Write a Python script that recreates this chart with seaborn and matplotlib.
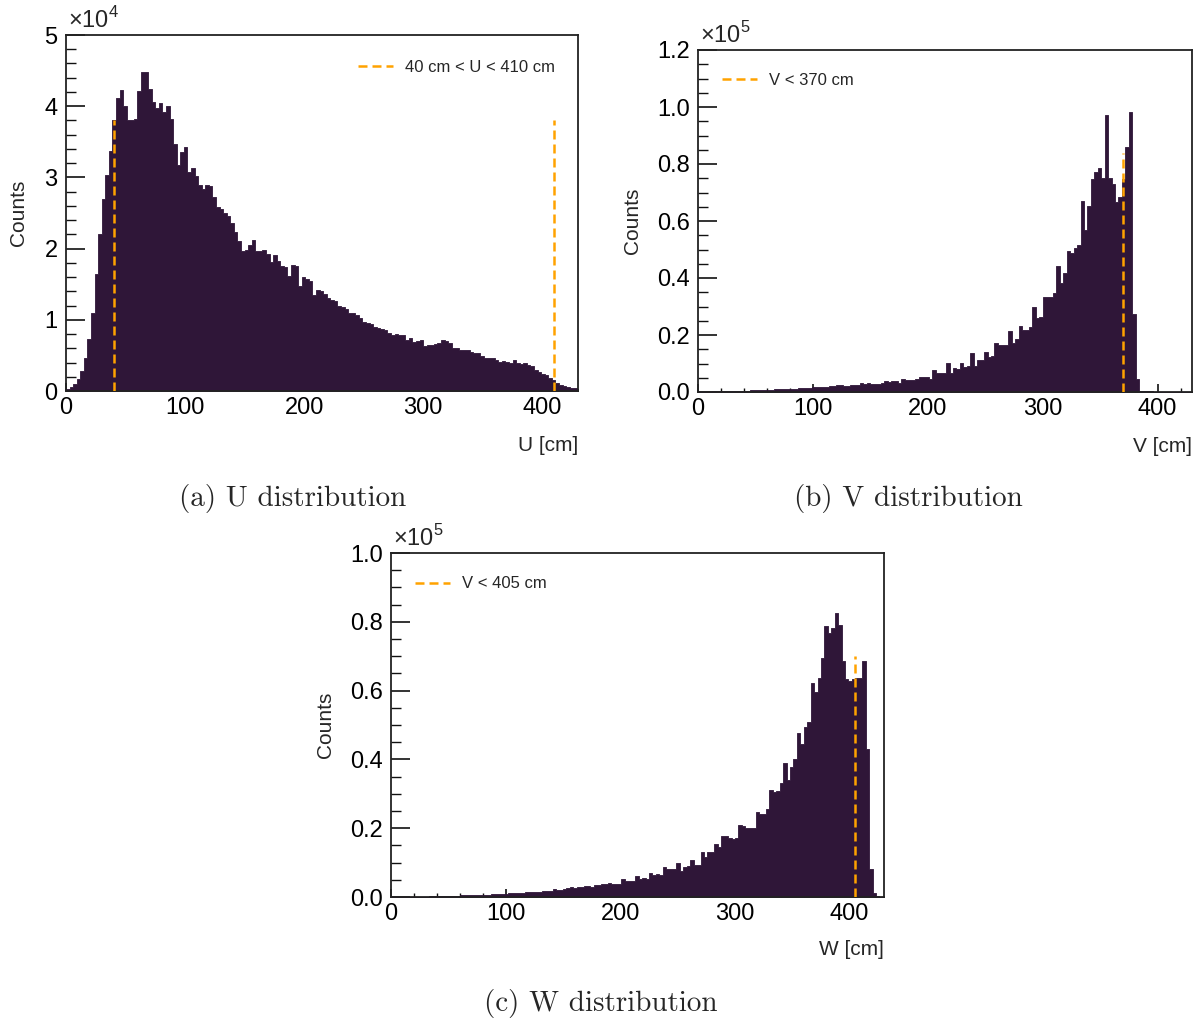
import numpy as np
import pandas as pd
import matplotlib
matplotlib.use("Agg")
import matplotlib.pyplot as plt
from matplotlib.ticker import MultipleLocator, FuncFormatter
import seaborn as sns

# ---------------------------------------------------------------------------
# Histogram contents: 3 cm wide bins starting at 0 cm
# ---------------------------------------------------------------------------
BIN_WIDTH_CM = 3
N_BINS = 144

# U distribution, counts in units of 1e4
u_counts_1e4 = [
    0.03, 0.06, 0.10, 0.17, 0.28, 0.46, 0.73, 1.10, 1.64, 2.21,
    2.69, 3.04, 3.37, 3.81, 4.12, 4.23, 4.00, 3.80, 3.80, 3.82,
    4.21, 4.48, 4.48, 4.24, 4.06, 3.97, 4.04, 3.92, 4.00, 3.82,
    3.47, 3.17, 3.35, 3.42, 3.08, 3.13, 3.02, 2.90, 2.84, 2.89,
    2.88, 2.73, 2.58, 2.56, 2.50, 2.46, 2.36, 2.23, 2.10, 1.97,
    1.98, 2.05, 2.12, 1.97, 1.96, 1.98, 1.93, 1.81, 1.91, 1.83,
    1.76, 1.74, 1.61, 1.77, 1.76, 1.47, 1.60, 1.58, 1.54, 1.35,
    1.42, 1.40, 1.36, 1.30, 1.28, 1.27, 1.19, 1.18, 1.15, 1.10,
    1.09, 1.07, 1.02, 0.97, 0.96, 0.94, 0.90, 0.89, 0.87, 0.86,
    0.82, 0.79, 0.80, 0.78, 0.79, 0.72, 0.74, 0.69, 0.70, 0.71,
    0.63, 0.65, 0.65, 0.66, 0.68, 0.71, 0.70, 0.68, 0.60, 0.61,
    0.58, 0.58, 0.57, 0.55, 0.54, 0.53, 0.49, 0.47, 0.46, 0.46,
    0.44, 0.41, 0.42, 0.41, 0.40, 0.43, 0.39, 0.38, 0.40, 0.37,
    0.35, 0.30, 0.27, 0.24, 0.22, 0.18, 0.15, 0.11, 0.08, 0.07,
    0.05, 0.04, 0.04, 0.03,
]

# V distribution, counts in units of 1e5
v_counts_1e5 = [
    0.001, 0.001, 0.001, 0.001, 0.002, 0.002, 0.002, 0.003, 0.003, 0.003,
    0.004, 0.004, 0.004, 0.005, 0.005, 0.006, 0.006, 0.006, 0.007, 0.007,
    0.008, 0.008, 0.009, 0.009, 0.009, 0.010, 0.010, 0.011, 0.012, 0.013,
    0.014, 0.015, 0.015, 0.016, 0.016, 0.017, 0.019, 0.019, 0.020, 0.020,
    0.023, 0.023, 0.021, 0.022, 0.026, 0.025, 0.026, 0.030, 0.029, 0.030,
    0.028, 0.028, 0.029, 0.033, 0.037, 0.036, 0.040, 0.039, 0.031, 0.047,
    0.042, 0.043, 0.042, 0.044, 0.051, 0.054, 0.053, 0.044, 0.077, 0.068,
    0.067, 0.066, 0.103, 0.065, 0.083, 0.082, 0.103, 0.089, 0.090, 0.138,
    0.091, 0.112, 0.113, 0.142, 0.124, 0.125, 0.173, 0.165, 0.166, 0.165,
    0.215, 0.171, 0.185, 0.232, 0.218, 0.219, 0.227, 0.297, 0.261, 0.262,
    0.335, 0.332, 0.334, 0.346, 0.442, 0.381, 0.416, 0.495, 0.487, 0.504,
    0.515, 0.670, 0.570, 0.652, 0.747, 0.773, 0.785, 0.750, 0.971, 0.750,
    0.729, 0.668, 0.685, 0.746, 0.861, 0.981, 0.273, 0.047, 0.003, 0.002,
    0.002, 0.002, 0.001, 0.001, 0.001, 0.001, 0.001, 0.001, 0.001, 0.001,
    0.001, 0.001, 0.001, 0.001,
]

# W distribution, counts in units of 1e5
w_counts_1e5 = [
    0.0004, 0.0004, 0.0005, 0.0005, 0.0005, 0.0005, 0.0006, 0.0006, 0.0007, 0.0010,
    0.0010, 0.0015, 0.0020, 0.0020, 0.0030, 0.0030, 0.0030, 0.0035, 0.0035, 0.0040,
    0.0045, 0.0050, 0.0050, 0.0055, 0.0055, 0.0060, 0.0070, 0.0070, 0.0070, 0.0075,
    0.0075, 0.0080, 0.0090, 0.0090, 0.0110, 0.0110, 0.0115, 0.0130, 0.0130, 0.0135,
    0.0135, 0.0150, 0.0150, 0.0155, 0.0170, 0.0170, 0.0175, 0.0220, 0.0200, 0.0210,
    0.0220, 0.0250, 0.0280, 0.0270, 0.0300, 0.0290, 0.0320, 0.0330, 0.0280, 0.0340,
    0.0350, 0.0380, 0.0370, 0.0420, 0.0380, 0.0390, 0.0380, 0.0510, 0.0460, 0.0470,
    0.0460, 0.0610, 0.0530, 0.0540, 0.0530, 0.0710, 0.0650, 0.0660, 0.0650, 0.0860,
    0.0800, 0.0810, 0.0800, 0.0980, 0.0770, 0.0880, 0.0890, 0.1090, 0.0930, 0.0940,
    0.1320, 0.1170, 0.1310, 0.1300, 0.1540, 0.1440, 0.1770, 0.1760, 0.1710, 0.1700,
    0.1720, 0.2090, 0.2050, 0.2000, 0.2010, 0.2000, 0.2480, 0.2410, 0.2420, 0.2550,
    0.3110, 0.3060, 0.3070, 0.3300, 0.3890, 0.3400, 0.3790, 0.4000, 0.4760, 0.4450,
    0.4930, 0.5100, 0.6210, 0.5970, 0.6380, 0.6960, 0.7880, 0.7660, 0.7830, 0.8270,
    0.7900, 0.6860, 0.6330, 0.6290, 0.6330, 0.6360, 0.6360, 0.6860, 0.4290, 0.0800,
    0.0110, 0.0030, 0.0010, 0.0000,
]

# Selection cuts: positions [cm] and drawn line heights
u_cuts_cm = [40, 410]
u_cut_height = 3.8e4
v_cuts_cm = [370]
v_cut_height = 0.84e5
w_cuts_cm = [405]
w_cut_height = 0.70e5

u_legend = "40 cm < U < 410 cm"
v_legend = "V < 370 cm"
w_legend = "V < 405 cm"

# ---------------------------------------------------------------------------
# Style
# ---------------------------------------------------------------------------
sns.set_theme(style="ticks")
plt.rcParams["font.family"] = ["Liberation Sans", "DejaVu Sans"]
plt.rcParams["mathtext.fontset"] = "custom"
plt.rcParams["mathtext.rm"] = "Liberation Sans"
plt.rcParams["axes.linewidth"] = 1.3
plt.rcParams["axes.edgecolor"] = "#222222"

FILL = "#2f1638"
CUT_COLOR = "#ffa200"
TICK_FS = 17
LABEL_FS = 15
LEGEND_FS = 12
CAPTION_FS = 21

centers = np.arange(N_BINS) * BIN_WIDTH_CM + BIN_WIDTH_CM / 2
bin_range = (0, N_BINS * BIN_WIDTH_CM)


def make_frame(values, scale):
    return pd.DataFrame({"pos": centers, "counts": np.asarray(values) * scale})


fig = plt.figure(figsize=(12.01, 10.23), dpi=100)
W, H = 1201, 1023


def axes_px(left, top, right, bottom):
    return fig.add_axes([left / W, 1 - bottom / H, (right - left) / W, (bottom - top) / H])


ax_u = axes_px(66, 35, 578, 391)
ax_v = axes_px(698, 50, 1192, 392)
ax_w = axes_px(391, 553, 884, 897)

panels = [
    dict(ax=ax_u, df=make_frame(u_counts_1e4, 1e4), ymax=5e4, ymaj=1e4, ymin=0.2e4,
         exp=4, fmt=lambda v, _: f"{v / 1e4:g}", xlabel="U [cm]",
         cuts=u_cuts_cm, cut_h=u_cut_height, leg=u_legend, leg_xy=(0.570, 0.910),
         ylab_x=-0.074, xlab_y=-0.126),
    dict(ax=ax_v, df=make_frame(v_counts_1e5, 1e5), ymax=1.2e5, ymaj=0.2e5, ymin=0.05e5,
         exp=5, fmt=lambda v, _: f"{v / 1e5:.1f}", xlabel="V [cm]",
         cuts=v_cuts_cm, cut_h=v_cut_height, leg=v_legend, leg_xy=(0.0486, 0.912),
         ylab_x=-0.113, xlab_y=-0.132),
    dict(ax=ax_w, df=make_frame(w_counts_1e5, 1e5), ymax=1.0e5, ymaj=0.2e5, ymin=0.05e5,
         exp=5, fmt=lambda v, _: f"{v / 1e5:.1f}", xlabel="W [cm]",
         cuts=w_cuts_cm, cut_h=w_cut_height, leg=w_legend, leg_xy=(0.0487, 0.910),
         ylab_x=-0.114, xlab_y=-0.125),
]

for p in panels:
    ax = p["ax"]
    sns.histplot(data=p["df"], x="pos", weights="counts",
                 binwidth=BIN_WIDTH_CM, binrange=bin_range,
                 element="step", fill=True, color=FILL, edgecolor=FILL,
                 alpha=1.0, linewidth=0.6, ax=ax)

    # cut lines
    for i, c in enumerate(p["cuts"]):
        ax.plot([c, c], [0, p["cut_h"]], color=CUT_COLOR, lw=1.8,
                linestyle=(0, (3.6, 2.0)), label=p["leg"] if i == 0 else None,
                zorder=3)

    ax.set_xlim(0, 430)
    ax.set_ylim(0, p["ymax"])
    ax.xaxis.set_major_locator(MultipleLocator(100))
    ax.xaxis.set_minor_locator(MultipleLocator(20))
    ax.yaxis.set_major_locator(MultipleLocator(p["ymaj"]))
    ax.yaxis.set_minor_locator(MultipleLocator(p["ymin"]))
    ax.yaxis.set_major_formatter(FuncFormatter(p["fmt"]))
    ax.xaxis.set_major_formatter(FuncFormatter(lambda v, _: f"{v:.0f}"))

    ax.tick_params(axis="both", which="both", direction="in", top=False, right=False,
                   colors="#111111", labelcolor="black")
    ax.tick_params(axis="y", which="major", length=14, width=1.2, pad=6, labelsize=TICK_FS)
    ax.tick_params(axis="y", which="minor", length=7, width=1.0)
    ax.tick_params(axis="x", which="major", length=6, width=1.2, pad=4, labelsize=TICK_FS)
    ax.tick_params(axis="x", which="minor", length=3, width=1.0)

    for s in ax.spines.values():
        s.set_visible(True)

    ax.set_ylabel("Counts", fontsize=LABEL_FS)
    ax.yaxis.set_label_coords(p["ylab_x"], 0.5)
    ax.set_xlabel(p["xlabel"], fontsize=LABEL_FS, loc="right")
    ax.xaxis.set_label_coords(1.0, p["xlab_y"])

    ax.text(0.004, 1.006, r"×10$^{%d}$" % p["exp"], transform=ax.transAxes,
            ha="left", va="bottom", fontsize=TICK_FS)

    ax.legend(loc="center left", bbox_to_anchor=p["leg_xy"], frameon=False,
              fontsize=LEGEND_FS, borderpad=0, borderaxespad=0,
              handlelength=2.1, handletextpad=0.7)

# captions
cap_kw = dict(ha="center", va="baseline", fontsize=CAPTION_FS, family="cmr10")
fig.text(293 / W, 1 - 506 / H, "(a) U distribution", **cap_kw)
fig.text(908 / W, 1 - 506 / H, "(b) V distribution", **cap_kw)
fig.text(601 / W, 1 - 1011 / H, "(c) W distribution", **cap_kw)

fig.savefig("out.png", dpi=100, facecolor="white")
